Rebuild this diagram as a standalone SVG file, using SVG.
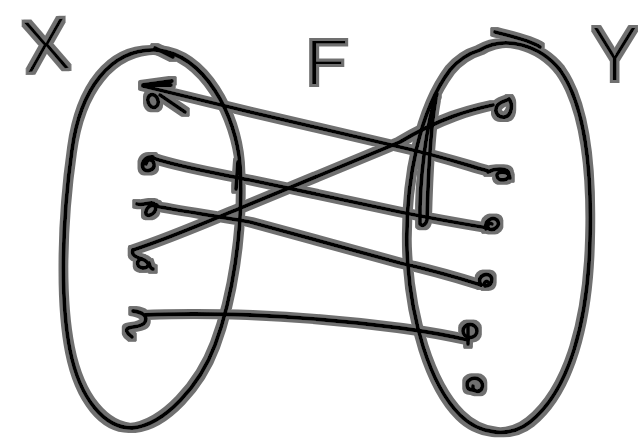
<svg xmlns="http://www.w3.org/2000/svg" width="638" height="439" viewBox="0 0 638 439">
<defs>
<filter id="marker" filterUnits="userSpaceOnUse" x="0" y="0" width="638" height="439">
<feMorphology in="SourceAlpha" operator="dilate" radius="2.7" result="d"/>
<feGaussianBlur in="d" stdDeviation="0.75" result="b"/>
<feFlood flood-color="#707070"/>
<feComposite in2="b" operator="in" result="halo"/>
<feMerge><feMergeNode in="halo"/><feMergeNode in="SourceGraphic"/></feMerge>
</filter>
<style>
.ink{fill:none;stroke:#000;stroke-width:3.8;stroke-linecap:round;stroke-linejoin:round}
.lbl{font-family:Lato,"Open Sans","Liberation Sans",sans-serif;font-weight:300;fill:#000}
</style>
</defs>
<rect width="638" height="439" fill="#fff"/>
<g filter="url(#marker)">
<g id="label-X"><text class="lbl" x="46" y="70" font-size="70" text-anchor="middle" transform="rotate(-6 46 45)">X</text></g>
<g id="label-F"><text class="lbl" x="304" y="84" font-size="62" textLength="44" lengthAdjust="spacingAndGlyphs">F</text></g>
<g id="label-Y"><text class="lbl" x="636" y="80" font-size="72" text-anchor="end">Y</text></g>

<g id="set-X">
<path class="ink" d="M 157 50 C 110 48, 80 90, 72 150 C 62 220, 60 300, 70 350 C 80 400, 105 428, 132 428 C 165 425, 200 385, 215 345 C 232 300, 244 230, 240 165 C 236 115, 205 55, 157 50 Z"/>
<path class="ink" d="M 155 48 L 173 57"/>
<path class="ink" d="M 238 162 L 236 189"/>
</g>
<g id="x1"><ellipse class="ink" cx="153" cy="101" rx="5" ry="6.5" transform="rotate(-20 153 101)"/></g>
<g id="x2"><path class="ink" d="M 153 157 C 145 156, 141 163, 143 168 C 146 173, 155 170, 154 164 C 153 159, 147 158, 146 164"/></g>
<g id="x3"><path class="ink" d="M 137 204 C 145 206, 152 200, 155 205 C 158 212, 149 218, 146 214 C 145 208, 152 203, 157 205"/></g>
<g id="x4"><path class="ink" d="M 133 250 C 131 255, 136 257, 142 259 C 150 262, 150 268, 143 268 C 136 267, 136 260, 142 259 M 149 263 C 150 267, 151 269, 153 269"/></g>
<g id="x5"><path class="ink" d="M 133 311 C 142 312, 148 316, 145 322 C 142 328, 130 326, 127 329 C 125 332, 130 335, 132 337"/></g>

<g id="set-Y">
<path class="ink" d="M 480 50 C 505 35, 540 45, 560 70 C 585 105, 592 170, 590 240 C 588 320, 570 390, 530 422 C 510 438, 480 435, 460 415 C 430 385, 410 320, 407 250 C 405 180, 420 110, 450 70 C 460 58, 470 53, 480 50 Z"/>
<path class="ink" d="M 495 32 C 510 36, 530 40, 540 47"/>
<path class="ink" d="M 437 94 C 427 120, 419 180, 420 224 C 423 227, 426 224, 427 220 C 428 180, 430 130, 436 98"/>
</g>
<g id="y1"><path class="ink" d="M 509 99 C 513 104, 512 115, 505 117 C 498 118, 494 112, 497 106 C 500 101, 507 101, 509 99"/></g>
<g id="y2"><path class="ink" d="M 488 172 C 495 168, 508 168, 509 174 C 510 181, 498 182, 497 176 C 496 170, 510 171, 510 178"/></g>
<g id="y3"><path class="ink" d="M 486 229 C 484 221, 492 216, 497 220 C 501 225, 495 231, 489 229 C 486 226, 489 222, 492 224"/></g>
<g id="y4"><path class="ink" d="M 481 285 C 477 278, 483 273, 489 275 C 494 278, 492 286, 485 286 C 483 283, 486 280, 488 282"/></g>
<g id="y5"><ellipse class="ink" cx="470" cy="331" rx="7" ry="6.5"/><path class="ink" d="M 468 325 L 468 344"/></g>
<g id="y6"><path class="ink" d="M 473 390 C 466 390, 465 382, 471 379 C 478 376, 484 382, 482 388 C 480 393, 472 392, 473 386"/></g>

<g id="connectors">
<path class="ink" d="M 143 86 L 250 112 L 400 147 C 440 156, 470 166, 488 171"/>
<path class="ink" d="M 172 81 L 143 85 L 171 85 M 160 95 L 185 112"/>
<path class="ink" d="M 493 105 C 470 110, 440 118, 400 142 L 243 207 C 200 225, 165 240, 133 250"/>
<path class="ink" d="M 153 158 C 175 166, 210 172, 250 180 L 400 212 C 440 220, 470 225, 488 228"/>
<path class="ink" d="M 150 205 C 175 210, 210 215, 250 222 L 400 263 C 440 272, 465 280, 481 285"/>
<path class="ink" d="M 145 315 C 190 313, 220 314, 250 315 C 320 318, 370 324, 400 328 C 430 332, 455 337, 468 340"/>
</g>
</g>
</svg>
